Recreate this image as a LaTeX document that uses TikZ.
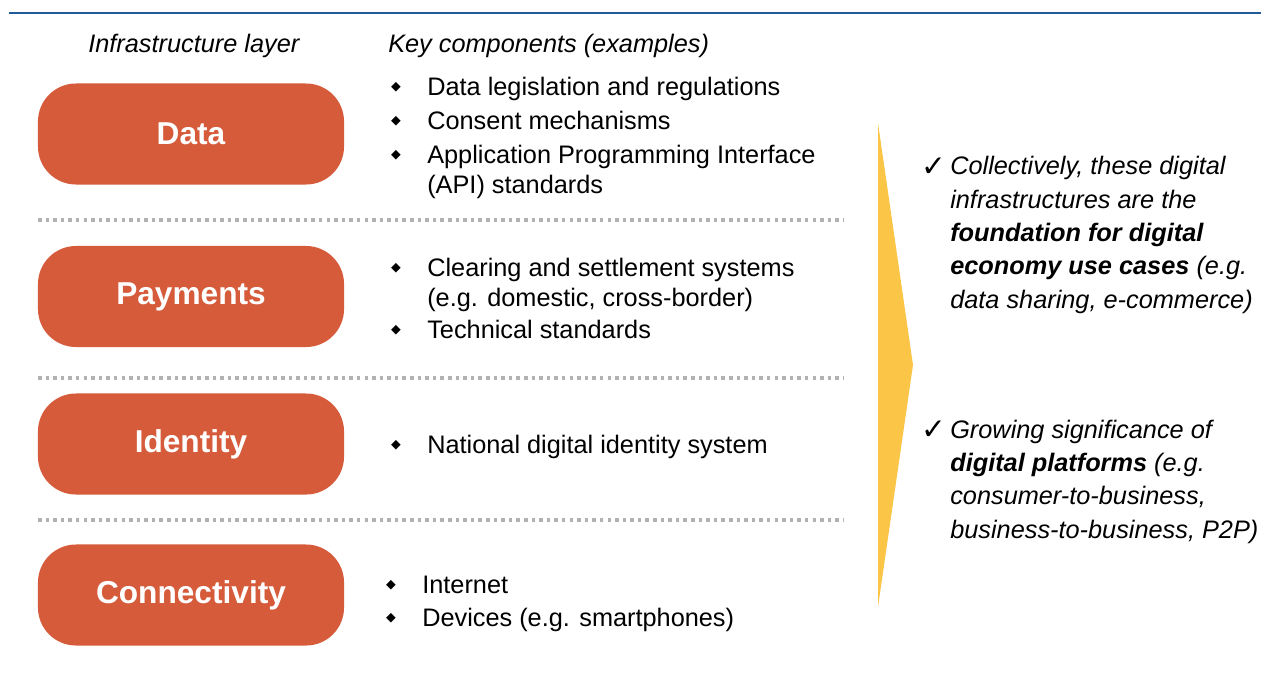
\documentclass[tikz,border=0pt]{standalone}
\usepackage{fontspec}
\setmainfont{Liberation Sans}
\newfontfamily\symfont{DejaVu Sans}
\usetikzlibrary{positioning}

\definecolor{layerorange}{HTML}{D55B3B}
\definecolor{arrowyellow}{HTML}{FBC547}
\definecolor{topblue}{HTML}{1F5B98}
\definecolor{dotgray}{HTML}{B2B2B2}

\begin{document}
\begin{tikzpicture}[x=0.025cm, y=-0.025cm,
    layer node/.style={rectangle, rounded corners=0.95cm, fill=layerorange, text=white,
      minimum width=7.65cm, minimum height=2.525cm, font=\bfseries\fontsize{22.5}{27}\selectfont},
    comp item/.style={anchor=base west, inner sep=0pt, align=left, font=\fontsize{18}{21.3}\selectfont},
    bullet mark/.style={inner sep=0pt, font=\symfont\fontsize{9}{9}\selectfont},
    head text/.style={anchor=base west, inner sep=0pt, font=\itshape\fontsize{18}{21.3}\selectfont},
    note text/.style={anchor=base west, inner sep=0pt, align=left, font=\itshape\fontsize{18}{23.7}\selectfont},
    tick mark/.style={anchor=base, inner sep=0pt, font=\symfont\fontsize{21}{21}\selectfont},
    sep line/.style={dotgray, line width=2.35pt, dash pattern=on 2.5pt off 2.9pt}]

  \useasboundingbox (0,0) rectangle (1261,679);

  % top rule
  \draw[topblue, line width=2pt] (9,13) -- (1261,13);

  % headers
  \node[head text] (hlayer) at (88,52) {Infrastructure layer};
  \node[head text] (hcomp) at (388,52) {Key components (examples)};

  % layers
  \node[layer node] (data) at (191,134) {Data};
  \node[layer node] (pay) at (191,296.5) {Payments};
  \node[layer node] (ident) at (191,444) {Identity};
  \node[layer node] (conn) at (191,595) {Connectivity};

  % separators
  \foreach \y in {220,378,520}
    \draw[sep line] (38,\y) -- (843,\y);

  % key components (base anchor = last line)
  \node[bullet mark] (b1) at (396,87) {◆};
  \node[comp item] (c1) at (427,95) {Data legislation and regulations};
  \node[bullet mark] (b2) at (396,121) {◆};
  \node[comp item] (c2) at (427,129) {Consent mechanisms};
  \node[bullet mark] (b3) at (396,155) {◆};
  \node[comp item] (c3) at (427,193) {Application Programming Interface\\(API) standards};

  \node[bullet mark] (b4) at (396,268) {◆};
  \node[comp item] (c4) at (427,306) {Clearing and settlement systems\\(e.g. domestic, cross-border)};
  \node[bullet mark] (b5) at (396,330) {◆};
  \node[comp item] (c5) at (427,338) {Technical standards};

  \node[bullet mark] (b6) at (396,445) {◆};
  \node[comp item] (c6) at (427,453) {National digital identity system};

  \node[bullet mark] (b7) at (391,585) {◆};
  \node[comp item] (c7) at (422,593) {Internet};
  \node[bullet mark] (b8) at (391,618) {◆};
  \node[comp item] (c8) at (422,626) {Devices (e.g. smartphones)};

  % arrow
  \fill[arrowyellow] (878,123) -- (913,365) -- (878,607) -- cycle;

  % conclusions
  \node[tick mark] (tick1) at (934,176) {✓};
  \node[note text] (note1) at (950,308) {Collectively, these digital\\
    infrastructures are the\\
    \textbf{foundation for digital}\\
    \textbf{economy use cases} (e.g.\\
    data sharing, e-commerce)};
  \node[tick mark] (tick2) at (934,439) {✓};
  \node[note text] (note2) at (950,538) {Growing significance of\\
    \textbf{digital platforms} (e.g.\\
    consumer-to-business,\\
    business-to-business, P2P)};
\end{tikzpicture}
\end{document}
